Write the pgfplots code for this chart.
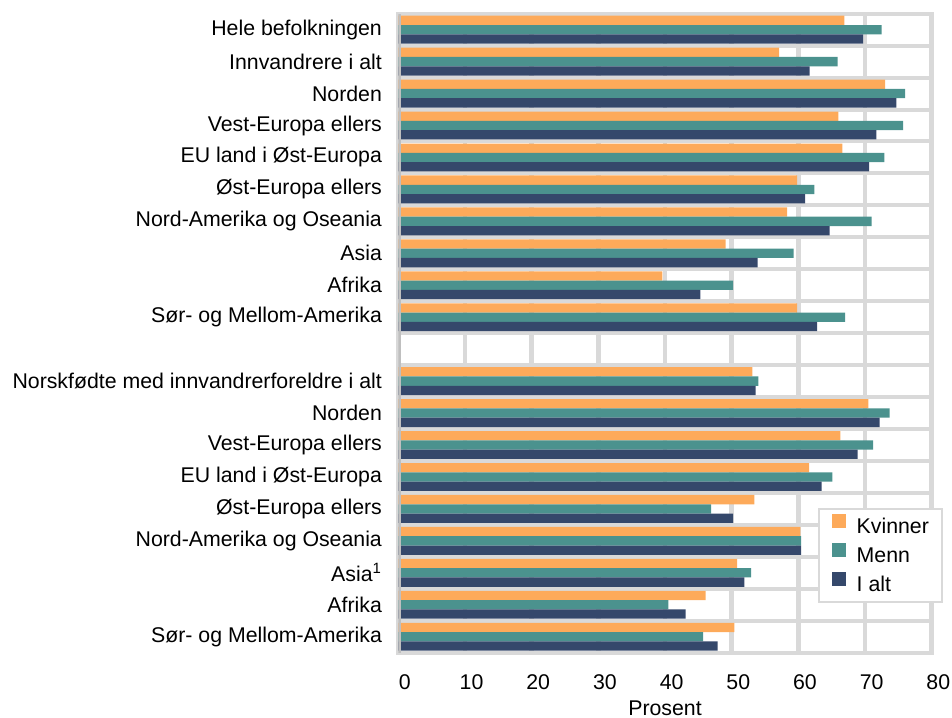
\documentclass[border=0pt]{standalone}
\usepackage{fontspec}
\setmainfont{Liberation Sans}
\usepackage{pgfplots}
\pgfplotsset{compat=1.18}
\definecolor{cK}{HTML}{FDAA5A}
\definecolor{cM}{HTML}{4B928E}
\definecolor{cI}{HTML}{35486B}
\definecolor{gridc}{HTML}{D9D9D9}
\definecolor{axc}{HTML}{BFBFBF}
\begin{document}
\fontsize{10.65pt}{12.8pt}\selectfont
\begin{tikzpicture}
\useasboundingbox (-199.15pt,-32.15pt) rectangle (276.85pt,326.35pt);
\begin{axis}[
  at={(0,0)}, anchor=south west,
  scale only axis,
  width=266.7pt, height=319.5pt,
  xmin=0, xmax=80, ymin=-0.5, ymax=19.5,
  xbar, bar width=4.65pt,
  xtick={0,10,...,80},
  ytick={0,...,19},
  yticklabels={Sør- og Mellom-Amerika, Afrika, Asia\textsuperscript{1}, Nord-Amerika og Oseania, Øst-Europa ellers, EU land i Øst-Europa, Vest-Europa ellers, Norden, Norskfødte med innvandrerforeldre i alt, {}, Sør- og Mellom-Amerika, Afrika, Asia, Nord-Amerika og Oseania, Øst-Europa ellers, EU land i Øst-Europa, Vest-Europa ellers, Norden, Innvandrere i alt, Hele befolkningen},
  minor ytick={0.5,1.5,...,18.5},
  major tick length=0pt, minor tick length=0pt,
  xmajorgrids, yminorgrids,
  major grid style={draw=gridc, line width=2.25pt},
  minor grid style={draw=gridc, line width=2pt},
  axis line style={draw=gridc, line width=2pt},
  /pgf/number format/assume math mode=true,
  xticklabel style={font=\fontsize{10.65pt}{12.8pt}\selectfont, inner sep=0pt, anchor=north, yshift=-10.6pt, xshift=3.3pt},
  yticklabel style={font=\fontsize{10.65pt}{12.8pt}\selectfont, inner sep=0pt, anchor=east, xshift=-8pt},
  xlabel={Prosent},
  every axis x label/.style={at={(axis description cs:0.5,0)}, anchor=base, yshift=-31.4pt, inner sep=0pt, font=\fontsize{10.65pt}{12.8pt}\selectfont},
  legend style={at={(0.787,0.226)}, anchor=north west, draw=gridc, line width=1pt, fill=white,
    font=\fontsize{10.65pt}{12.8pt}\selectfont, inner xsep=6.4pt, inner ysep=2.5pt, row sep=2.1pt,
    nodes={inner sep=0pt, text height=7.6pt, text depth=2.6pt},
    /tikz/every odd column/.append style={column sep=5.4pt}},
  legend cell align=left,
  legend image code/.code={\fill[#1] (0pt,0.3pt) rectangle (7pt,7.3pt);},
]
\addplot[xbar, bar shift=4.65pt, fill=cK, draw=none] coordinates {
(66.9,19) (57.1,18) (73.0,17) (66.0,16) (66.6,15) (59.8,14) (58.3,13) (49.1,12) (39.6,11) (59.8,10)
(53.1,8) (70.5,7) (66.3,6) (61.6,5) (53.4,4) (60.3,3) (50.8,2) (46.1,1) (50.4,0)};
\addlegendentry{Kvinner}
\addplot[xbar, bar shift=0pt, fill=cM, draw=none] coordinates {
(72.5,19) (65.9,18) (76.0,17) (75.7,16) (72.9,15) (62.4,14) (71.0,13) (59.3,12) (50.2,11) (67.0,10)
(54.0,8) (73.7,7) (71.2,6) (65.1,5) (46.9,4) (60.4,3) (52.9,2) (40.5,1) (45.7,0)};
\addlegendentry{Menn}
\addplot[xbar, bar shift=-4.65pt, fill=cI, draw=none] coordinates {
(69.7,19) (61.7,18) (74.7,17) (71.7,16) (70.6,15) (61.0,14) (64.7,13) (53.9,12) (45.3,11) (62.8,10)
(53.6,8) (72.2,7) (68.9,6) (63.5,5) (50.2,4) (60.4,3) (51.9,2) (43.1,1) (47.9,0)};
\addlegendentry{I alt}
\draw[axc, line width=2.3pt] (axis cs:0,-0.5) -- (axis cs:0,19.5);
\end{axis}
\end{tikzpicture}
\end{document}
